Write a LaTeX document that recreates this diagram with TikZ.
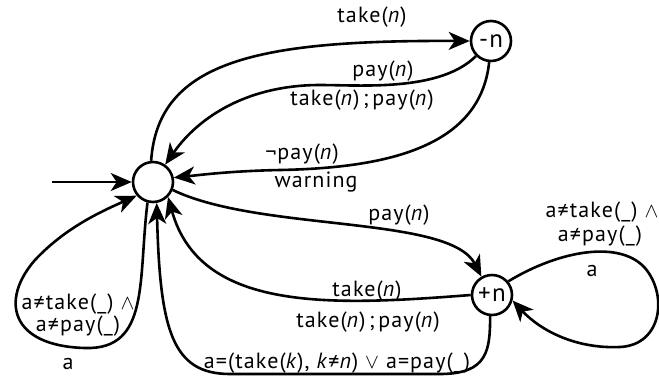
\documentclass[tikz,border=0pt]{standalone}
\usepackage{fontspec}
\setmainfont{PT Sans}[LetterSpace=5]
\usetikzlibrary{arrows.meta}
\begin{document}
\begin{tikzpicture}[x=1pt,y=-1pt,
  state/.style={circle,draw,line width=2.6pt,minimum size=40pt,inner sep=0pt,font=\fontsize{25}{27}\selectfont},
  edge/.style={line width=2.6pt,-{Stealth[length=21pt,width=18pt,inset=6pt]}},
  lbl/.style={font=\fontsize{22}{24}\selectfont,inner sep=0pt}]
\useasboundingbox (0,0) rectangle (659,376);
\node[state] (i) at (153,182) {};
\node[state] (m) at (491,41) {-n};
\node[state] (p) at (492,295) {+n};
\coordinate (s) at (52,182);
\draw[edge] (s) -- (i.west);
% take(n) to -n
\draw[edge] (i.95) .. controls (158,60) and (260,40) .. (m.west);
% pay(n) back
\draw[edge] (m.225) .. controls (440,92) and (360,85) .. (320,85) .. controls (250,85) and (200,115) .. (i.55);
% warning back
\draw[edge] (m.-95) .. controls (480,150) and (380,168) .. (280,170) .. controls (230,171) and (200,175) .. (i.12);
% pay(n) to +n
\draw[edge] (i.-22) .. controls (260,232) and (450,215) .. (p.120);
% take(n) back from +n
\draw[edge] (p.west) .. controls (330,306) and (200,312) .. (i.-45);
% bottom
\draw[edge] (p.-95) .. controls (490,350) and (488,374) .. (440,374) -- (230,374) .. controls (172,374) and (160,330) .. (i.-80);
% init self loop
\draw[edge] (i.-105) .. controls (138,280) and (150,350) .. (85,348) .. controls (10,346) and (0,300) .. (35,260) .. controls (65,228) and (100,212) .. (i.-140);
% +n self loop
\draw[edge] (p.40) .. controls (560,250) and (620,240) .. (645,268) .. controls (668,295) and (662,345) .. (620,347) .. controls (575,349) and (540,330) .. (p.-15);
% labels
\node[lbl] (l1) at (372,17) {take(\textit{n})};
\node[lbl] (l2) at (383,71) {pay(\textit{n})};
\node[lbl] (l3) at (362,100) {take(\textit{n})\,;\,pay(\textit{n})};
\node[lbl] (l4) at (302,154) {¬pay(\textit{n})};
\node[lbl] (l5) at (316,182) {warning};
\node[lbl] (l6) at (399,215) {pay(\textit{n})};
\node[lbl] (l7) at (367,291) {take(\textit{n})};
\node[lbl] (l8) at (368,322) {take(\textit{n})\,;\,pay(\textit{n})};
\node[lbl] (l9) at (337,363) {a=(take(\textit{k}), \textit{k}≠\textit{n}) $\vee$ a=pay(\_)};
\node[lbl] (l10) at (78,304) {a≠take(\_) $\wedge$};
\node[lbl] (l11) at (78,326) {a≠pay(\_)};
\node[lbl] (l12) at (68,364) {a};
\node[lbl] (l13) at (602,212) {a≠take(\_) $\wedge$};
\node[lbl] (l14) at (600,236) {a≠pay(\_)};
\node[lbl] (l15) at (592,271) {a};
\end{tikzpicture}
\end{document}
